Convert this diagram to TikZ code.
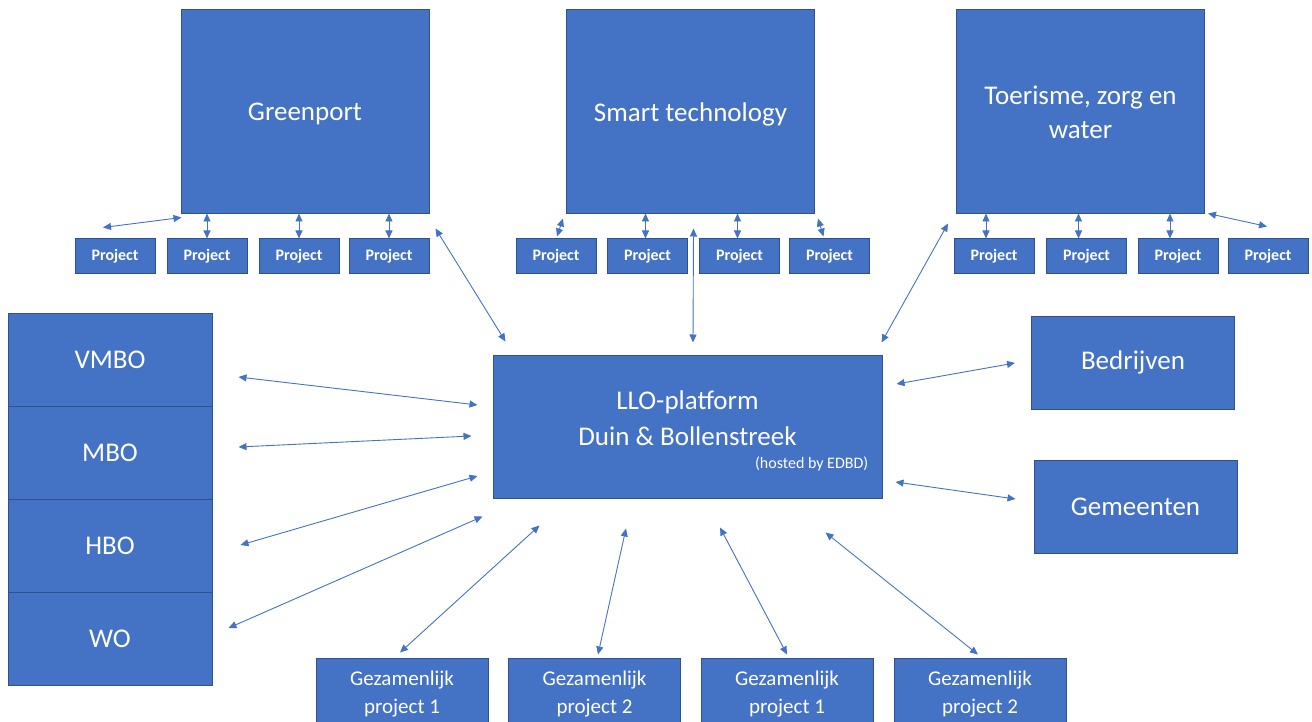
\documentclass[tikz,border=0pt]{standalone}
\usepackage{fontspec}
\setmainfont{Carlito}
\usetikzlibrary{arrows.meta,calc,positioning}

\definecolor{boxblue}{HTML}{4472C4}
\definecolor{boxedge}{HTML}{2F528F}

\begin{document}
\begin{tikzpicture}[x=1pt,y=-1pt,
    blok/.style={fill=boxblue,draw=boxedge,line width=1pt,text=white,align=center,inner sep=0pt},
    thema/.style={blok,minimum width=248pt,minimum height=204pt,font=\fontsize{27}{34}\selectfont},
    project/.style={blok,minimum width=80pt,minimum height=34pt,font=\fontsize{16}{19}\selectfont\bfseries},
    onderwijs/.style={blok,minimum width=204pt,minimum height=93pt,font=\fontsize{27}{33}\selectfont},
    partner/.style={blok,minimum width=203pt,minimum height=93pt,font=\fontsize{27}{33}\selectfont},
    samen/.style={blok,minimum width=172pt,minimum height=72pt,font=\fontsize{21}{27.5}\selectfont},
    pijl/.style={draw=boxblue,line width=0.9pt,{Triangle[length=8pt,width=7pt]}-{Triangle[length=8pt,width=7pt]}}]

  \useasboundingbox (0,0) rectangle (1312,722);

  % thema's bovenaan
  \node[thema,text depth=0pt] (greenport) at (305,112) {Greenport};
  \node[thema,text depth=0pt] (smart) at (690.5,112) {Smart technology};
  \node[thema] (toerisme) at (1080.5,112) {Toerisme, zorg en\\water};

  \foreach \x [count=\i] in {115,207,299,389}
    \node[project] (gp\i) at (\x,256) {Project};
  \foreach \x [count=\i] in {556,647.5,739.5,829.5}
    \node[project] (st\i) at (\x,256) {Project};
  \foreach \x [count=\i] in {994,1086.5,1178,1268}
    \node[project] (tz\i) at (\x,256) {Project};

  % platform in het midden
  \node[blok,minimum width=389pt,minimum height=143pt] (llo) at (687.5,426.5) {};
  \node[text=white,align=center,font=\fontsize{27}{36}\selectfont] (llotekst)
    at ([shift={(0,-8)}]llo.center) {LLO-platform\\Duin \& Bollenstreek};
  \node[anchor=base east,text=white,font=\fontsize{16}{18}\selectfont,inner sep=0pt] (hosted)
    at ([shift={(-14,-30)}]llo.south east) {(hosted by EDBD)};

  % onderwijs links
  \foreach \naam [count=\i] in {VMBO,MBO,HBO,WO}
    \node[onderwijs] (edu\i) at (110,266.5+93*\i) {\naam};

  \node[partner] (bedrijven) at (1133,362.5) {Bedrijven};
  \node[partner] (gemeenten) at (1135.5,506.5) {Gemeenten};

  \foreach \x/\nr [count=\i] in {402/1,594.5/2,787/1,980/2}
    \node[samen] (gz\i) at (\x,694) {Gezamenlijk\\project \nr};

  % pijlen naar de projecten
  \draw[pijl] ([shift={(-12,-11)}]gp1.north) -- ([shift={(1,3)}]greenport.south west);
  \foreach \i in {2,3,4}
    \draw[pijl] (gp\i.north) -- ([shift={(0,-25)}]gp\i.north);
  \draw[pijl] ([shift={(-3,4)}]smart.south west) -- ([shift={(1,-2)}]st1.north);
  \foreach \i in {2,3}
    \draw[pijl] ([shift={(-2,0)}]st\i.north) -- ([shift={(-2,-25)}]st\i.north);
  \draw[pijl] ([shift={(3,4)}]smart.south east) -- ([shift={(-6,-2)}]st4.north);
  \foreach \i in {1,2,3}
    \draw[pijl] ([shift={(-8,0)}]tz\i.north) -- ([shift={(-8,-25)}]tz\i.north);
  \draw[pijl] ([shift={(3,-1)}]toerisme.south east) -- ([shift={(-1,-12)}]tz4.north);

  % pijlen naar het platform
  \draw[pijl] ([shift={(6,14)}]greenport.south east) -- ([shift={(13,-13)}]llo.north west);
  \draw[pijl] ($(st2.north east)!.5!(st3.north west)+(0,-10)$) -- ([shift={(5.5,-12)}]llo.north);
  \draw[pijl] ([shift={(-8,9)}]toerisme.south west) -- ([shift={(-1,-12)}]llo.north east);
  \draw[pijl] ([shift={(14,-42.5)}]llo.east) -- ([shift={(-16,0.5)}]bedrijven.west);
  \draw[pijl] ([shift={(13,55.5)}]llo.east) -- ([shift={(-18,-7.5)}]gemeenten.west);

  \foreach \i/\dx/\dy/\ex/\ey in {1/26/17.5/-15/-21.5, 2/26/-5.5/-21/9.5, 3/28/-0.5/-15/49.5}
    \draw[pijl] ([shift={(\dx,\dy)}]edu\i.east) -- ([shift={(\ex,\ey)}]llo.west);
  \draw[pijl] ([shift={(16,-10.5)}]edu4.east) -- ([shift={(-10,18)}]llo.south west);

  \draw[pijl] ([shift={(-2,-5)}]gz1.north) -- ([shift={(47,27)}]llo.south west);
  \draw[pijl] ([shift={(3.5,-3)}]gz2.north) -- ([shift={(-61.5,30)}]llo.south);
  \draw[pijl] ([shift={(0,-3)}]gz3.north) -- ([shift={(32.5,29)}]llo.south);
  \draw[pijl] ([shift={(-2,-3)}]gz4.north) -- ([shift={(-57,34)}]llo.south east);
\end{tikzpicture}
\end{document}
